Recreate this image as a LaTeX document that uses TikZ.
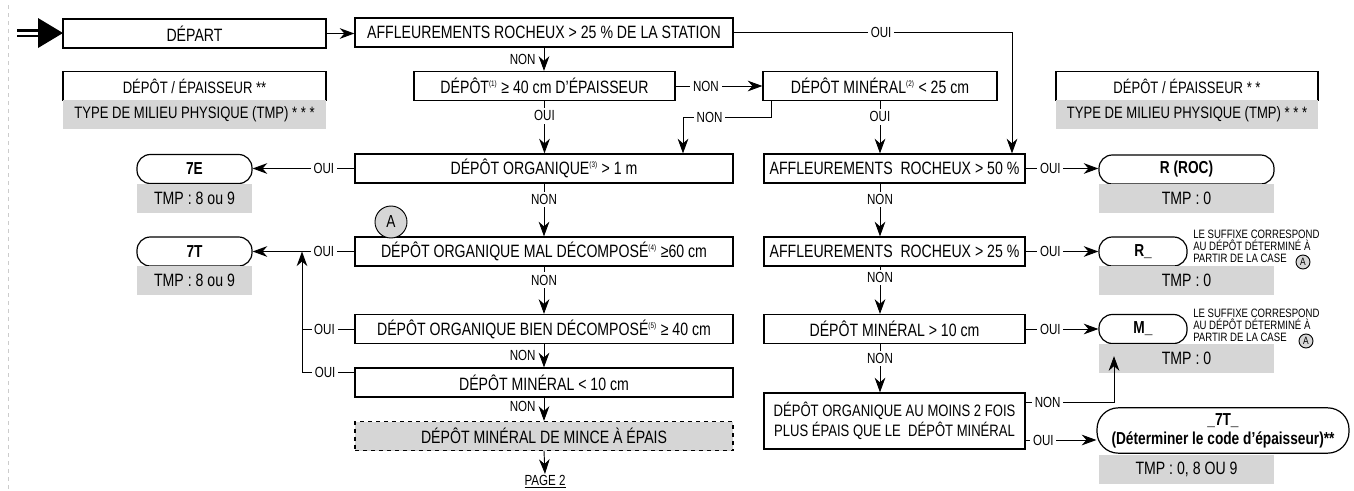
\documentclass[tikz,border=0pt]{standalone}
\usepackage{fontspec}
\setmainfont[FakeStretch=0.79]{Liberation Sans}
\usetikzlibrary{arrows.meta}
\definecolor{gris}{RGB}{214,214,214}
\newcommand{\renvoi}[1]{\textsuperscript{\fontsize{6}{6}\selectfont(#1)}}

\begin{document}
\begin{tikzpicture}[x=0.75pt,y=-0.75pt]
  \tikzstyle{every node}+=[inner sep=0pt]
  \tikzstyle{boite}=[draw, line width=0.9pt, minimum height=21.75pt, font=\fontsize{13.4}{15}\selectfont]
  \tikzstyle{legende}=[boite, font=\fontsize{12.4}{14}\selectfont]
  \tikzstyle{fin}=[boite, rounded corners=10pt, font=\fontsize{13}{14.5}\selectfont\bfseries]
  \tikzstyle{tmp}=[fill=gris, minimum height=21.75pt, font=\fontsize{13.4}{15}\selectfont]
  \tikzstyle{fleche}=[line width=0.7pt, -{Stealth[length=11pt,width=8pt,inset=3.5pt]}]
  \tikzstyle{trait}=[line width=0.7pt]
  \tikzstyle{lbl}=[fill=white, inner sep=2pt, font=\fontsize{11}{12}\selectfont]
  \tikzstyle{lblg}=[left=6pt, font=\fontsize{11}{12}\selectfont]
  \tikzstyle{note}=[align=left, anchor=west, font=\fontsize{9.1}{9}\selectfont]
  \tikzstyle{caseA}=[circle, draw, fill=gris, line width=0.7pt]

  \useasboundingbox (0,0) rectangle (1354,490);
  \draw[gray!40, dashed] (8,5) -- (8,490);

  % entree
  \fill (38,18) -- (63,33) -- (38,48) -- cycle;
  \draw[line width=2pt] (17,30.5) -- (40,30.5) (17,36) -- (40,36);

  % legendes
  \node[boite, minimum width=197.25pt] (depart) at (194.5,33.5) {DÉPART};
  \node[legende, minimum width=197.25pt] (leg1) at (194.5,86) {DÉPÔT / ÉPAISSEUR **};
  \node[tmp, minimum width=197.25pt, font=\fontsize{12.4}{14}\selectfont] (leg1tmp) at (194.5,114) {TYPE DE MILIEU PHYSIQUE (TMP) * * *};
  \node[legende, minimum width=196.5pt] (leg2) at (1187,86) {DÉPÔT / ÉPAISSEUR * *};
  \node[tmp, minimum width=196.5pt, font=\fontsize{12.4}{14}\selectfont] (leg2tmp) at (1187,114) {TYPE DE MILIEU PHYSIQUE (TMP) * * *};

  % colonne du centre
  \node[boite, minimum width=283.5pt] (aff25s) at (544,32.5) {AFFLEUREMENTS ROCHEUX > 25 \% DE LA STATION};
  \node[boite, minimum width=195.75pt] (dep40) at (544.5,86) {DÉPÔT\renvoi{1} ≥ 40 cm D'ÉPAISSEUR};
  \node[boite, minimum width=283.5pt] (org1m) at (544,168.5) {DÉPÔT ORGANIQUE\renvoi{3} > 1 m};
  \node[boite, minimum width=283.5pt] (mal) at (544,251.5) {DÉPÔT ORGANIQUE MAL DÉCOMPOSÉ\renvoi{4} ≥60 cm};
  \node[boite, minimum width=283.5pt] (bien) at (544,329) {DÉPÔT ORGANIQUE BIEN DÉCOMPOSÉ\renvoi{5} ≥ 40 cm};
  \node[boite, minimum width=283.5pt] (min10) at (544,382.5) {DÉPÔT MINÉRAL < 10 cm};
  \node[boite, dashed, fill=gris, minimum width=283.5pt] (epais) at (544,436) {DÉPÔT MINÉRAL DE MINCE À ÉPAIS};
  \node[font=\fontsize{11}{12}\selectfont, inner sep=1pt] (page2) at (545,482) {\underline{PAGE 2}};
  \node[caseA, minimum size=24pt, font=\fontsize{13}{13}\selectfont] (a0) at (391,222) {A};

  % colonne de droite
  \node[boite, minimum width=175.5pt] (min25) at (880,86) {DÉPÔT MINÉRAL\renvoi{2} < 25 cm};
  \node[boite, minimum width=195.75pt] (aff50) at (894.5,168.5) {AFFLEUREMENTS \ ROCHEUX > 50 \%};
  \node[boite, minimum width=195.75pt] (aff25) at (894.5,251.5) {AFFLEUREMENTS \ ROCHEUX > 25 \%};
  \node[boite, minimum width=195.75pt] (min10sup) at (894.5,329) {DÉPÔT MINÉRAL > 10 cm};
  \node[boite, minimum width=195.75pt, minimum height=42pt, align=center, font=\fontsize{12.4}{15}\selectfont] (org2x) at (894.5,421) {DÉPÔT ORGANIQUE AU MOINS 2 FOIS\\PLUS ÉPAIS QUE LE \ DÉPÔT MINÉRAL};

  % resultats
  \node[fin, minimum width=86.25pt] (e7) at (194.5,169) {7E};
  \node[tmp, minimum width=86.25pt] (e7tmp) at (194.5,198) {TMP : 8 ou 9};
  \node[fin, minimum width=86.25pt] (t7) at (194.5,251.5) {7T};
  \node[tmp, minimum width=86.25pt] (t7tmp) at (194.5,280.5) {TMP : 8 ou 9};
  \node[fin, minimum width=131.25pt] (roc) at (1186.5,169.5) {R (ROC)};
  \node[tmp, minimum width=131.25pt] (roctmp) at (1186.5,198) {TMP : 0};
  \node[fin, minimum width=66pt] (rsuf) at (1143,251.5) {R\_};
  \node[tmp, minimum width=131.25pt] (rtmp) at (1186.5,280.5) {TMP : 0};
  \node[fin, minimum width=66pt] (msuf) at (1143,329) {M\_};
  \node[tmp, minimum width=131.25pt] (mtmp) at (1186.5,358.5) {TMP : 0};
  \node[fin, rounded corners=16pt, minimum width=189pt, minimum height=34pt, align=center] (t7b) at (1223,430.5) {\_7T\_\\(Déterminer le code d’épaisseur)**};
  \node[tmp, minimum width=131.25pt] (t7btmp) at (1186.5,469) {TMP : 0, 8 OU 9};

  \node[note] (note1) at (1193,246) {LE SUFFIXE CORRESPOND\\AU DÉPÔT DÉTERMINÉ À\\PARTIR DE LA CASE};
  \node[caseA, minimum size=10.5pt, font=\fontsize{8}{8}\selectfont] (a1) at (1303,262) {A};
  \node[note] (note2) at (1193,325) {LE SUFFIXE CORRESPOND\\AU DÉPÔT DÉTERMINÉ À\\PARTIR DE LA CASE};
  \node[caseA, minimum size=10.5pt, font=\fontsize{8}{8}\selectfont] (a2) at (1306,341) {A};

  % liens
  \coordinate (coinoui) at (1012,32.5);
  \coordinate (coinnon) at (683,117);
  \coordinate (axe) at (880,0);
  \coordinate (coinm) at (1114,402);
  \coordinate (retour) at (302,251.5);

  \draw[fleche] (depart.east) -- (depart.east -| aff25s.west);
  \draw[fleche] (aff25s.east) -- node[lbl, pos=0.53]{OUI} (coinoui) -- (coinoui |- aff50.north);
  \draw[fleche] (aff25s.south) -- node[lblg]{NON} (aff25s.south |- dep40.north);
  \draw[fleche] (dep40.east) -- node[lbl, pos=0.35]{NON} (dep40.east -| min25.west);
  \draw[fleche] ([xshift=6.75pt]min25.south west) |- node[lbl, pos=0.85]{NON} (coinnon) -- (coinnon |- org1m.north);
  \draw[fleche] (dep40.south) -- node[lbl, pos=0.28]{OUI} (dep40.south |- org1m.north);
  \draw[fleche] (min25.south) -- node[lbl, pos=0.3]{OUI} (min25.south |- aff50.north);

  \draw[fleche] (org1m.west) -- node[lbl, pos=0.3]{OUI} (org1m.west -| e7.east);
  \draw[fleche] (org1m.south) -- node[lbl, pos=0.3]{NON} (org1m.south |- mal.north);
  \draw[fleche] (mal.west) -- node[lbl, pos=0.3]{OUI} (mal.west -| t7.east);
  \draw[fleche] (mal.south) -- node[lbl, pos=0.29]{NON} (mal.south |- bien.north);
  \draw[trait] (bien.west) -- node[lbl, pos=0.57]{OUI} (bien.west -| retour);
  \draw[fleche] ([yshift=-3.75pt]min10.north west) -| node[lbl, pos=0.28]{OUI} (retour);
  \draw[fleche] (bien.south) -- node[lblg]{NON} (bien.south |- min10.north);
  \draw[fleche] (min10.south) -- node[lblg, pos=0.4]{NON} (min10.south |- epais.north);
  \draw[fleche] (epais.south) -- (page2.north);

  \draw[fleche] (aff50.east) -- node[lbl, pos=0.34]{OUI} (aff50.east -| roc.west);
  \draw[fleche] (aff50.south -| axe) -- node[lbl, pos=0.3]{NON} (aff25.north -| axe);
  \draw[fleche] (aff25.east) -- node[lbl, pos=0.34]{OUI} (aff25.east -| rsuf.west);
  \draw[fleche] (aff25.south -| axe) -- node[lbl, pos=0.23]{NON} (min10sup.north -| axe);
  \draw[fleche] (min10sup.east) -- node[lbl, pos=0.34]{OUI} (min10sup.east -| msuf.west);
  \draw[fleche] (min10sup.south -| axe) -- node[lbl, pos=0.3]{NON} (org2x.north -| axe);
  \draw[fleche] (org2x.east |- coinm) -- node[lbl, pos=0.25]{NON} (coinm) -- ([yshift=-9pt]coinm |- msuf.south);
  \draw[fleche] ([yshift=-14.25pt]org2x.east) -- node[lbl, pos=0.25]{OUI} ([yshift=-14.25pt]org2x.east -| t7b.west);
\end{tikzpicture}
\end{document}
